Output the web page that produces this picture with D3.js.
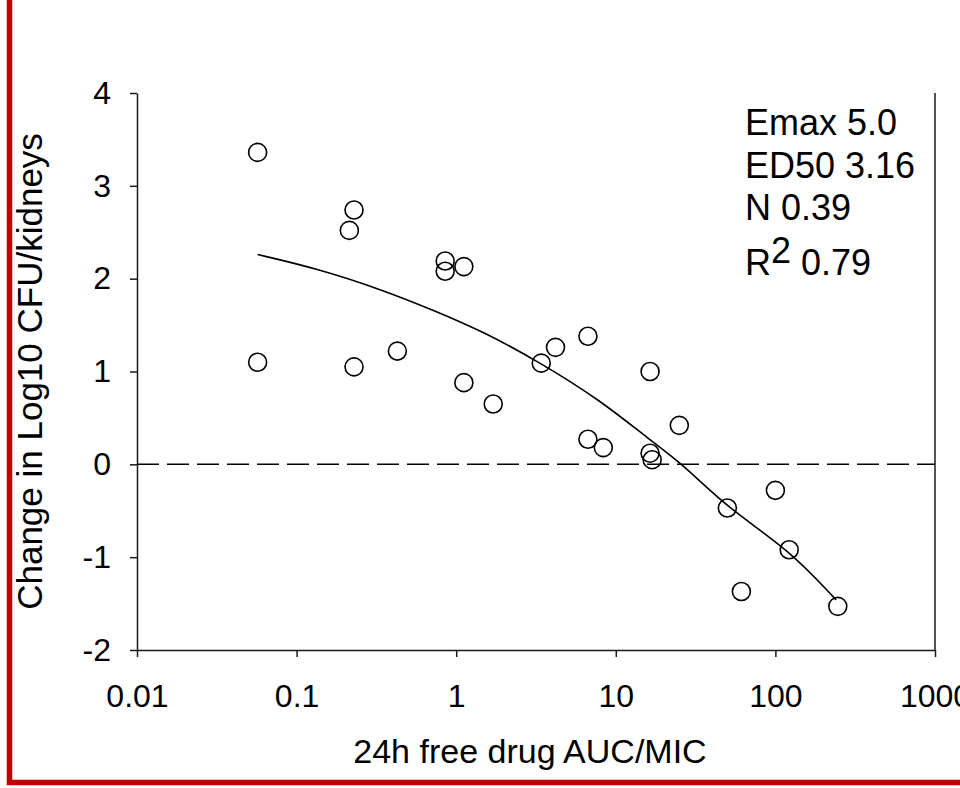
<!DOCTYPE html>
<html>
<head>
<meta charset="utf-8">
<script src="https://cdn.jsdelivr.net/npm/d3@7"></script>
<style>
  html, body { margin: 0; padding: 0; background: #fff; }
  svg { display: block; }
  text { font-family: "Liberation Sans", Arial, sans-serif; fill: #000; }
</style>
</head>
<body>
<svg id="chart" width="960" height="788"></svg>
<script>
// ---- Data ----
const aucMic = [0.057, 0.057, 0.229, 0.214, 0.229, 0.428, 0.853, 0.853, 1.117, 1.117,
                1.706, 3.41, 4.19, 6.69, 6.69, 8.35, 16.4, 16.4, 16.9, 25.0,
                50, 61.2, 100, 122, 246];
const logChange = [3.36, 1.10, 2.74, 2.52, 1.05, 1.22, 2.19, 2.08, 2.13, 0.88,
                   0.65, 1.09, 1.26, 1.38, 0.27, 0.18, 1.00, 0.12, 0.05, 0.42,
                   -0.47, -1.37, -0.28, -0.92, -1.53];
// fitted curve
const fitX = [0.057, 0.134, 0.35, 0.72, 1.48, 3.41, 8.0, 16.4, 26.4, 50.1, 122, 240];
const fitY = [2.26, 2.11, 1.876, 1.66, 1.43, 1.09, 0.69, 0.26, 0.0, -0.47, -0.92, -1.46];
const xTicks = [0.01, 0.1, 1, 10, 100, 1000];
const xTickLabels = ["0.01", "0.1", "1", "10", "100", "1000"];
const yTicks = [-2, -1, 0, 1, 2, 3, 4];
const yTickLabels = ["-2", "-1", "0", "1", "2", "3", "4"];
const legendLines = ["Emax 5.0", "ED50 3.16", "N 0.39"];
const r2Label = { base: "R", sup: "2", value: " 0.79" };
const xTitle = "24h free drug AUC/MIC";
const yTitle = "Change in Log10 CFU/kidneys";

// ---- Layout ----
const svg = d3.select("#chart");
const L = 137, R = 935, T = 93, B = 650;
const x = d3.scaleLog().domain([0.01, 1000]).range([L, R]);
const y = d3.scaleLinear().domain([-2, 4]).range([B, T]);
const axisColor = "#1a1a1a";

// red frame (left and bottom visible)
svg.append("path")
  .attr("d", `M9.5,-10 L9.5,782.5 L975,782.5`)
  .attr("fill", "none")
  .attr("stroke", "#c00000")
  .attr("stroke-width", 5.5);

// right vertical line
svg.append("line")
  .attr("x1", R).attr("x2", R).attr("y1", T).attr("y2", B)
  .attr("stroke", axisColor).attr("stroke-width", 1.5);

// zero dashed line
svg.append("line")
  .attr("x1", x(0.01)).attr("x2", x(1000)).attr("y1", y(0)).attr("y2", y(0))
  .attr("stroke", "#000").attr("stroke-width", 1.5)
  .attr("stroke-dasharray", "22,8");

// axes
const yAxis = d3.axisLeft(y).tickValues(yTicks)
  .tickFormat((d, i) => yTickLabels[i])
  .tickSize(7).tickSizeOuter(0).tickPadding(19);
const gy = svg.append("g").attr("transform", `translate(${L},0)`).call(yAxis);

const xAxis = d3.axisBottom(x).tickValues(xTicks)
  .tickFormat((d, i) => xTickLabels[i])
  .tickSize(7).tickSizeOuter(0).tickPadding(27);
const gx = svg.append("g").attr("transform", `translate(0,${B})`).call(xAxis);

[gx, gy].forEach(g => {
  g.select(".domain").attr("stroke", axisColor).attr("stroke-width", 1.5);
  g.selectAll(".tick line").attr("stroke", axisColor).attr("stroke-width", 1.5);
  g.selectAll(".tick text")
    .style("font-family", '"Liberation Sans", Arial, sans-serif')
    .style("font-size", "32px").attr("fill", "#000");
});

// fitted curve
const fitPts = fitX.map((d, i) => [d, fitY[i]]);
svg.append("path")
  .datum(fitPts)
  .attr("d", d3.line().x(d => x(d[0])).y(d => y(d[1])).curve(d3.curveBasis))
  .attr("fill", "none").attr("stroke", "#000").attr("stroke-width", 1.6);

// points
svg.append("g").selectAll("circle")
  .data(aucMic.map((d, i) => [d, logChange[i]]))
  .join("circle")
  .attr("cx", d => x(d[0])).attr("cy", d => y(d[1]))
  .attr("r", 9)
  .attr("fill", "none").attr("stroke", "#000").attr("stroke-width", 1.6);

// legend text
const lg = svg.append("g").style("font-size", "36px");
legendLines.forEach((t, i) => {
  lg.append("text").attr("x", 745).attr("y", 135 + i * 42.5).text(t);
});
const r2 = lg.append("text").attr("x", 745).attr("y", 275);
r2.append("tspan").text(r2Label.base);
r2.append("tspan").attr("dy", -12).text(r2Label.sup);
r2.append("tspan").attr("dy", 12).text(r2Label.value);

// axis titles
svg.append("text")
  .attr("x", 530).attr("y", 763)
  .attr("text-anchor", "middle")
  .style("font-size", "34px")
  .text(xTitle);

svg.append("text")
  .attr("transform", `translate(42,${(T + B) / 2}) rotate(-90)`)
  .attr("text-anchor", "middle")
  .style("font-size", "35px")
  .text(yTitle);
</script>
</body>
</html>
